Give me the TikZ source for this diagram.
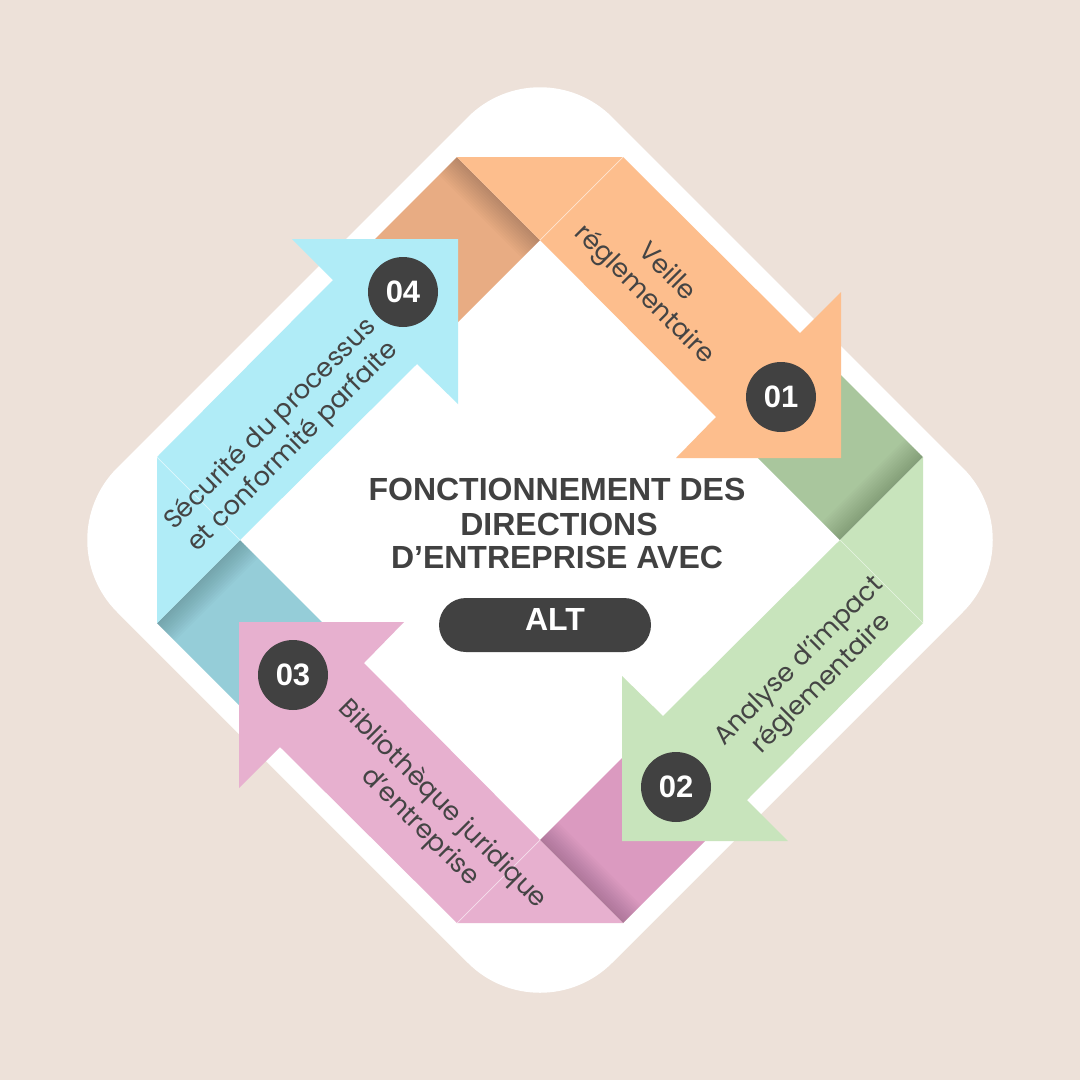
\documentclass[tikz,border=0pt]{standalone}
\usepackage{fontspec}
\setmainfont{Poppins}
\newfontfamily\titlefont{Liberation Sans}
\definecolor{bg}{HTML}{EDE1D9}
\definecolor{dk}{HTML}{414141}
\definecolor{txt}{HTML}{444444}
\definecolor{orL}{HTML}{FDBE8D}
\definecolor{orD}{HTML}{E8AC83}
\definecolor{grL}{HTML}{C8E4BC}
\definecolor{grD}{HTML}{A9C69D}
\definecolor{piL}{HTML}{E7B0CF}
\definecolor{piD}{HTML}{DB9AC0}
\definecolor{cyL}{HTML}{B0ECF7}
\definecolor{cyD}{HTML}{95CDD8}
\tikzset{
  numc/.style={circle, fill=dk, minimum size=70pt, inner sep=0pt, text=white,
    font=\titlefont\bfseries\fontsize{31}{31}\selectfont},
  ttl/.style={anchor=base, inner sep=0pt, text=dk,
    font=\titlefont\bfseries\fontsize{32}{34}\selectfont},
  lbl/.style={inner sep=0pt, text=txt, align=center,
    font=\fontsize{26}{32}\selectfont}
}
\begin{document}
\begin{tikzpicture}[x=1pt,y=-1pt]
\useasboundingbox (0,0) rectangle (1080,1080);
\fill[bg] (0,0) rectangle (1080,1080);
% white rounded diamond
\fill[white, rounded corners=102pt] (292.5,292.5) -- (540,45) -- (1035,540) -- (540,1035) -- (45,540) -- cycle;
% folded tails (darker shades) with soft shadows along the fold
\foreach \ang/\dc in {0/orD,-90/grD,-180/piD,-270/cyD}{
  \begin{scope}[rotate around={\ang:(540,540)}]
    \fill[\dc] (457,157) -- (540,240) -- (430,350) -- (347,267) -- cycle;
    \begin{scope}
      \clip (457,157) -- (540,240) -- (430,350) -- (347,267) -- cycle;
      \foreach \i in {1,...,12}{
        \pgfmathsetmacro\b{\i*1.5}
        \fill[black, opacity=0.016] (457,157) -- (540,240) -- (540-\b,240+\b) -- (457-\b,157+\b) -- cycle;
      }
    \end{scope}
  \end{scope}
}
% main arrow bodies
\foreach \ang/\lc in {0/orL,-90/grL,-180/piL,-270/cyL}{
  \begin{scope}[rotate around={\ang:(540,540)}]
    \fill[\lc] (457,157) -- (623,157) -- (800,333) -- (841,292) -- (841,458) -- (676,458) -- (716,417) -- (540,240) -- cycle;
    \draw[white, opacity=0.6, line width=0.7pt] (623,157) -- (540,240);
  \end{scope}
}
% number badges
\node[numc] (n1) at (781,397) {01};
\node[numc] (n2) at (676,787) {02};
\node[numc] (n3) at (293,675) {03};
\node[numc] (n4) at (403,292) {04};
% labels
\node[lbl, rotate=-45] (l1) at (655,284) {Veille\\réglementaire};
\node[lbl, rotate=45] (l2) at (811,673) {Analyse d’impact\\réglementaire};
\node[lbl, rotate=-45] (l3) at (431,816) {Bibliothèque juridique\\d’entreprise};
\node[lbl, rotate=45] (l4) at (282,436) {Sécurité du processus\\et conformité parfaite};
% title
\node[ttl] (t1) at (557,500) {FONCTIONNEMENT DES};
\node[ttl] (t2) at (559,535) {DIRECTIONS};
\node[ttl] (t3) at (557,568) {D’ENTREPRISE AVEC};
% pill
\node[fill=dk, rounded corners=27pt, minimum width=212pt, minimum height=54pt, inner sep=0pt] (pill) at (545,625) {};
\node[ttl, text=white] (alt) at (555,630) {ALT};
\end{tikzpicture}
\end{document}
